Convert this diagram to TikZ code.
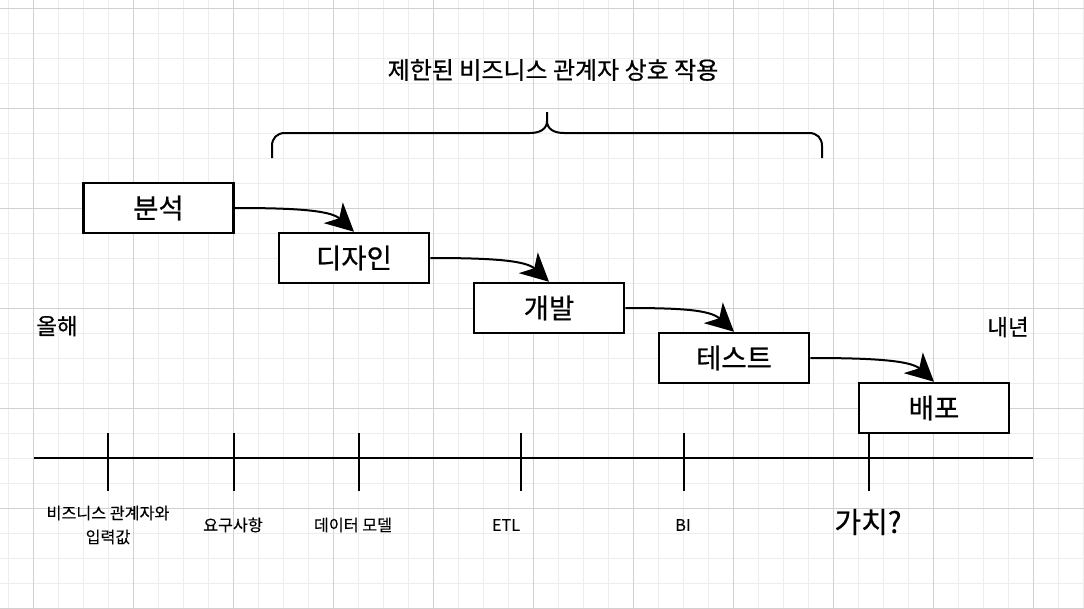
\documentclass[tikz,border=0pt]{standalone}
\usepackage{fontspec}
\setmainfont{Noto Sans CJK KR}[FakeBold=0.6]
\newfontfamily\krlight{Noto Sans CJK KR}[FakeBold=0.2]
\usetikzlibrary{arrows.meta}
\begin{document}
\begin{tikzpicture}[x=1pt,y=-1pt,
  minorgrid/.style={draw=black!7,line width=1pt},
  majorgrid/.style={draw=black!18,line width=1pt},
  stage/.style={draw=black,line width=2.5pt,fill=white,minimum width=150pt,minimum height=50pt,inner sep=0pt,font=\fontsize{27.5}{32}\selectfont},
  flow/.style={line width=2pt,-{Stealth[length=28pt,width=28pt,inset=8pt]}},
  axisline/.style={line width=2.8pt},
  tick/.style={line width=2.8pt},
  brace/.style={line width=2pt},
  small/.style={font=\krlight\fontsize{16.2}{24}\selectfont,align=center,inner sep=0pt},
  side/.style={font=\fontsize{22.5}{26}\selectfont,inner sep=0pt}]
\useasboundingbox (0,0) rectangle (1084,608);
\fill[white] (0,0) rectangle (1084,608);
% grid
\foreach \x in {8,33,...,1083} \draw[minorgrid] (\x,0) -- (\x,608);
\foreach \y in {8,33,...,608} \draw[minorgrid] (0,\y) -- (1084,\y);
\foreach \x in {33,133,...,1033} \draw[majorgrid] (\x,0) -- (\x,608);
\foreach \y in {8,108,...,608} \draw[majorgrid] (0,\y) -- (1084,\y);

% title and brace
\node[font=\fontsize{24}{28}\selectfont,inner sep=0pt] (title) at (553,70) {제한된 비즈니스 관계자 상호 작용};
\draw[brace] (272,158) -- (272,146) .. controls (272,138) and (277,133) .. (285,133) -- (530,133) .. controls (540,133) and (547,129) .. (547,121) -- (547,112);
\draw[brace] (822,158) -- (822,146) .. controls (822,138) and (817,133) .. (809,133) -- (564,133) .. controls (554,133) and (547,129) .. (547,121);

% stages
\node[stage] (b1) at (158.5,208) {분석};
\node[stage] (b2) at (354,258) {디자인};
\node[stage] (b3) at (549,308) {개발};
\node[stage] (b4) at (734,358) {테스트};
\node[stage] (b5) at (934,408) {배포};

\draw[flow] (b1.east) .. controls +(55,0) and +(-24,-22) .. (b2.north);
\draw[flow] (b2.east) .. controls +(55,0) and +(-24,-22) .. (b3.north);
\draw[flow] (b3.east) .. controls +(55,0) and +(-24,-22) .. (b4.north);
\draw[flow] (b4.east) .. controls +(55,0) and +(-24,-22) .. (b5.north);

% side labels
\node[side] (thisyear) at (57,326) {올해};
\node[side] (nextyear) at (1008,327) {내년};

% axis
\coordinate (axL) at (34,458);
\coordinate (axR) at (1033,458);
\draw[axisline] (axL) -- (axR);
\foreach \n/\x in {t1/108,t2/234,t3/359,t4/521,t5/684,t6/869}{
  \coordinate (\n top) at (\x,433);
  \coordinate (\n bot) at (\x,491);
  \draw[tick] (\n top) -- (\n bot);
}

% axis labels
\node[small] (l1) at (108,525) {비즈니스 관계자와\\입력값};
\node[small] (l2) at (233,525) {요구사항};
\node[small] (l3) at (353,525) {데이터 모델};
\node[small] (l4) at (506,525) {ETL};
\node[small] (l5) at (683,525) {BI};
\node[font=\fontsize{29}{34}\selectfont,inner sep=0pt] (l6) at (868,522) {가치?};
\end{tikzpicture}
\end{document}
